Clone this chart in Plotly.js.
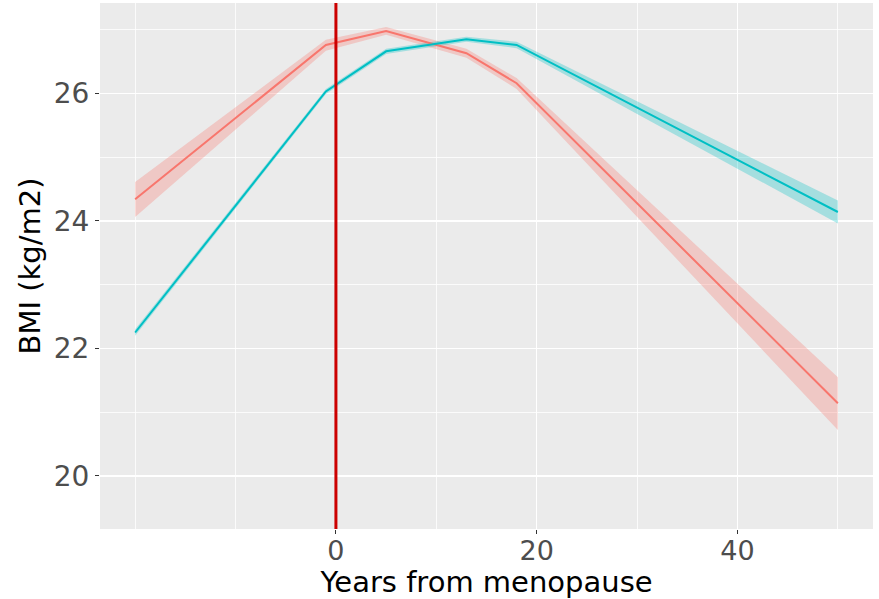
<!DOCTYPE html>
<html>
<head>
<meta charset="utf-8">
<script src="https://cdn.plot.ly/plotly-3.0.1.min.js"></script>
<style>html,body{margin:0;padding:0;background:#fff;}#chart{width:879px;height:599px;}</style>
</head>
<body>
<div id="chart"></div>
<script>
// Years from menopause
const years = [-20, -1, 5, 13, 18, 50];
// Series 1 (red)
const redMean = [24.34, 26.76, 26.98, 26.63, 26.16, 21.14];
const redLow  = [24.06, 26.67, 26.92, 26.56, 26.07, 20.72];
const redHigh = [24.61, 26.84, 27.04, 26.70, 26.24, 21.55];
// Series 2 (teal)
const tealMean = [22.25, 26.03, 26.66, 26.85, 26.76, 24.14];
const tealLow  = [22.20, 25.99, 26.62, 26.81, 26.71, 23.96];
const tealHigh = [22.30, 26.07, 26.70, 26.89, 26.81, 24.32];
const menopauseYear = 0;
const xTicks = [0, 20, 40];
const yTicks = [20, 22, 24, 26];

function ribbon(lo, hi, color) {
  return {
    x: years.concat(years.slice().reverse()),
    y: hi.concat(lo.slice().reverse()),
    type: 'scatter', mode: 'lines', fill: 'toself',
    fillcolor: color, line: {width: 0}, hoverinfo: 'skip', showlegend: false
  };
}
function line(y, color) {
  return {x: years, y: y, type: 'scatter', mode: 'lines',
    line: {color: color, width: 2}, showlegend: false};
}

const data = [
  ribbon(redLow, redHigh, 'rgba(248,118,109,0.3)'),
  ribbon(tealLow, tealHigh, 'rgba(0,191,196,0.3)'),
  line(redMean, '#F8766D'),
  line(tealMean, '#00BFC4')
];

const layout = {
  width: 879, height: 599,
  margin: {l: 100, r: 6, t: 3, b: 70},
  paper_bgcolor: '#ffffff', plot_bgcolor: '#EBEBEB',
  font: {family: 'DejaVu Sans', color: '#000'},
  showlegend: false,
  xaxis: {
    range: [-23.5, 53.5], tickvals: xTicks, ticktext: xTicks.map(String),
    showgrid: true, gridcolor: '#ffffff', gridwidth: 1.6,
    minor: {tick0: 0, dtick: 10, showgrid: true, gridcolor: '#ffffff', gridwidth: 0.8},
    zeroline: false, showline: false,
    ticks: 'outside', ticklen: 4, tickwidth: 1, tickcolor: '#333333',
    ticklabelstandoff: -6,
    tickfont: {family: 'DejaVu Sans', size: 27, color: '#4D4D4D'},
    title: {text: 'Years from menopause', font: {family: 'DejaVu Sans', size: 29, color: '#000'}, standoff: 4}
  },
  yaxis: {
    range: [19.168, 27.418], tickvals: yTicks, ticktext: yTicks.map(String),
    showgrid: true, gridcolor: '#ffffff', gridwidth: 1.6,
    minor: {tick0: 0, dtick: 1, showgrid: true, gridcolor: '#ffffff', gridwidth: 0.8},
    zeroline: false, showline: false,
    ticks: 'outside', ticklen: 4, tickwidth: 1, tickcolor: '#333333',
    tickfont: {family: 'DejaVu Sans', size: 28, color: '#4D4D4D'},
    title: {text: 'BMI (kg/m2)', font: {family: 'DejaVu Sans', size: 29, color: '#000'}, standoff: 4}
  },
  shapes: [{
    type: 'line', xref: 'x', yref: 'paper', x0: menopauseYear, x1: menopauseYear, y0: 0, y1: 1,
    line: {color: '#CC0000', width: 3}, layer: 'above'
  }]
};

Plotly.newPlot('chart', data, layout, {displayModeBar: false, staticPlot: true});
</script>
</body>
</html>
